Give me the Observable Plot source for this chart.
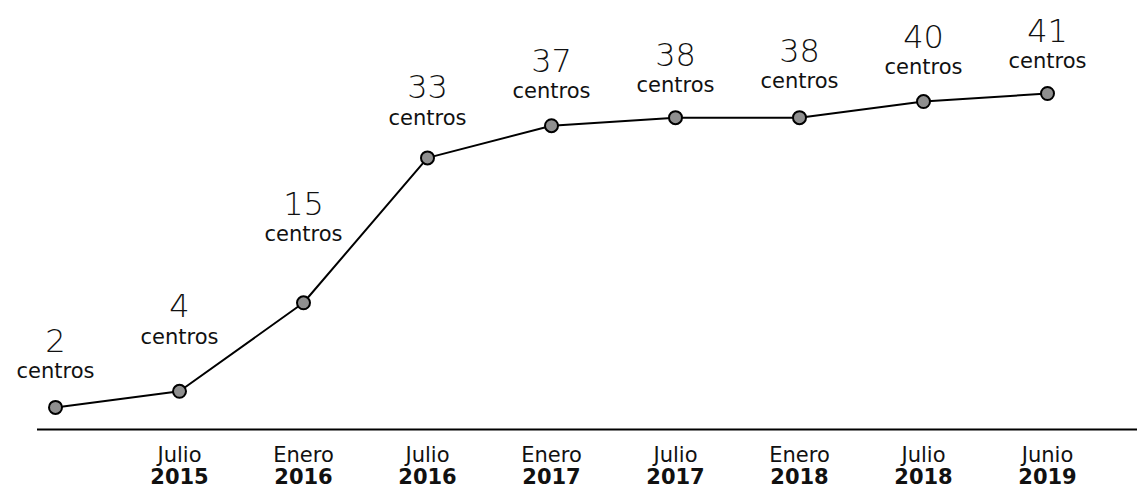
<!DOCTYPE html>
<html>
<head>
<meta charset="utf-8">
<script src="https://cdn.jsdelivr.net/npm/d3@7"></script>
<script src="https://cdn.jsdelivr.net/npm/@observablehq/plot@0.6"></script>
<style>
  html, body { margin: 0; padding: 0; background: #fff; }
  #chart svg { display: block; }
</style>
</head>
<body>
<div id="chart"></div>
<script>
const periods = [0, 1, 2, 3, 4, 5, 6, 7, 8];
const months = ["", "Julio", "Enero", "Julio", "Enero", "Julio", "Enero", "Julio", "Junio"];
const years = ["", "2015", "2016", "2016", "2017", "2017", "2018", "2018", "2019"];
const values = [2, 4, 15, 33, 37, 38, 38, 40, 41];
const unit = "centros";

// labels sit a bit higher where the line climbs steeply towards the next point
const data = periods.map((p, i) => {
  const rise = i < values.length - 1 ? Math.max(0, values[i + 1] - values[i]) : 0;
  return {p, month: months[i], year: years[i], value: values[i], labelY: values[i] + 0.25 * rise};
});
const font = "'DejaVu Sans', 'Open Sans', sans-serif";

const chart = Plot.plot({
  width: 1137,
  height: 495,
  marginTop: 93,
  marginBottom: 72,
  marginLeft: 37,
  marginRight: 0,
  style: {fontFamily: font, color: "#111", background: "#fff"},
  x: {type: "point", domain: periods, padding: 0, insetLeft: 17, insetRight: 89, axis: null},
  y: {domain: [0, 41], axis: null},
  marks: [
    Plot.ruleY([0], {stroke: "#000", strokeWidth: 2, dy: 6}),
    Plot.line(data, {x: "p", y: "value", stroke: "#000", strokeWidth: 2}),
    Plot.dot(data, {x: "p", y: "value", r: 6.5, fill: "#8f8f8f", stroke: "#000", strokeWidth: 2}),
    Plot.text(data, {x: "p", y: "labelY", text: d => String(d.value), dy: -62, fontSize: 32, fontWeight: 200, lineAnchor: "middle", fill: "#111"}),
    Plot.text(data, {x: "p", y: "labelY", text: () => unit, dy: -32, fontSize: 21, fontWeight: 400, lineAnchor: "middle", fill: "#111"}),
    Plot.text(data, {x: "p", text: "month", frameAnchor: "bottom", dy: 32, fontSize: 21, fontWeight: 400, lineAnchor: "middle", fill: "#111"}),
    Plot.text(data, {x: "p", text: "year", frameAnchor: "bottom", dy: 54, fontSize: 21, fontWeight: 700, lineAnchor: "middle", fill: "#111"})
  ]
});
document.getElementById("chart").append(chart);
</script>
</body>
</html>
